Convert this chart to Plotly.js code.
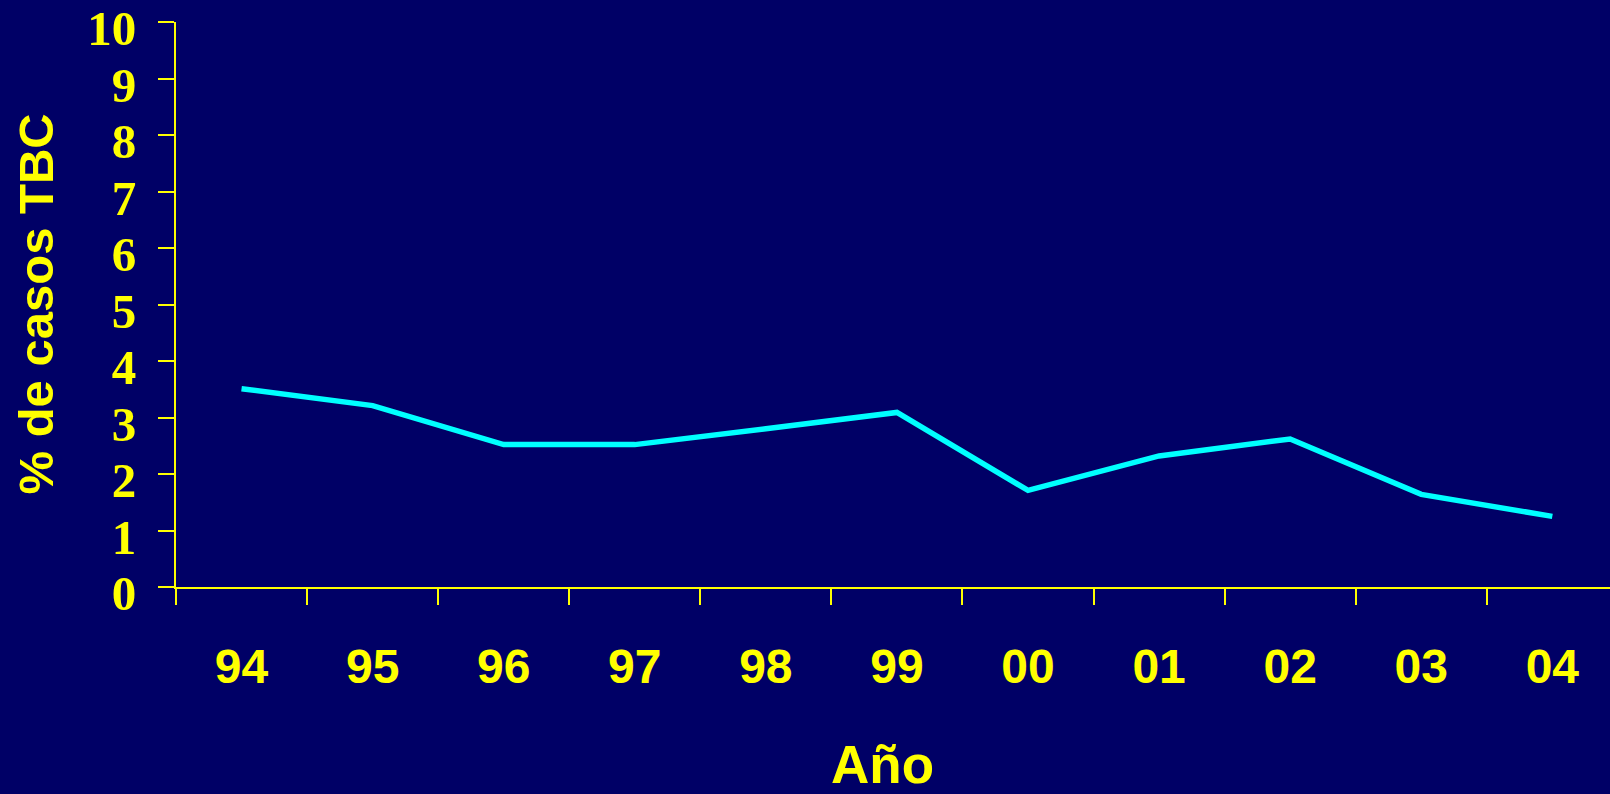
<!DOCTYPE html>
<html>
<head>
<meta charset="utf-8">
<script src="https://cdn.plot.ly/plotly-3.0.1.min.js"></script>
<style>html,body{margin:0;padding:0;background:#000066;}#chart{width:1610px;height:794px;}</style>
</head>
<body>
<div id="chart"></div>
<script>
const years = ['94', '95', '96', '97', '98', '99', '00', '01', '02', '03', '04'];
const percentTBC = [3.51, 3.21, 2.52, 2.52, 2.80, 3.09, 1.71, 2.32, 2.62, 1.64, 1.25];
const yTicks = [0, 1, 2, 3, 4, 5, 6, 7, 8, 9, 10];
const xTitle = 'Año';
const yTitle = '% de casos TBC';

const yellow = '#FFFF00';
const bg = '#000066';

Plotly.newPlot('chart', [{
  type: 'scatter',
  mode: 'lines',
  x: years,
  y: percentTBC,
  line: {color: '#00FFFF', width: 5.5},
  hoverinfo: 'skip'
}], {
  width: 1610,
  height: 794,
  margin: {l: 176, r: 0, t: 22, b: 207},
  paper_bgcolor: bg,
  plot_bgcolor: bg,
  showlegend: false,
  xaxis: {
    type: 'category',
    range: [-0.5, 10.44],
    tickson: 'boundaries',
    ticks: 'outside',
    ticklen: 16,
    tickwidth: 2,
    tickcolor: yellow,
    showline: true,
    linecolor: yellow,
    linewidth: 2,
    showgrid: false,
    zeroline: false,
    ticklabelstandoff: 36,
    ticklabeloverflow: 'allow',
    tickfont: {family: 'Liberation Sans, Arial, sans-serif', size: 48, color: yellow, weight: 'bold'}
  },
  yaxis: {
    range: [0, 10],
    tickvals: yTicks,
    ticktext: yTicks.map(String),
    ticks: 'outside',
    ticklen: 16,
    tickwidth: 2,
    tickcolor: yellow,
    showline: true,
    linecolor: yellow,
    linewidth: 2,
    showgrid: false,
    zeroline: false,
    ticklabelstandoff: 12,
    ticklabelshift: 6,
    ticklabeloverflow: 'allow',
    tickfont: {family: 'Liberation Serif, Times New Roman, serif', size: 49, color: yellow, weight: 'bold'}
  },
  annotations: [
    {
      text: xTitle, xref: 'paper', yref: 'paper', x: (882 - 176) / 1434, y: -177 / 565,
      xanchor: 'center', yanchor: 'middle', showarrow: false,
      font: {family: 'Liberation Sans, Arial, sans-serif', size: 53, color: yellow, weight: 'bold'}
    },
    {
      text: yTitle, xref: 'paper', yref: 'paper', x: (35 - 176) / 1434, y: 0.5,
      xanchor: 'center', yanchor: 'middle', showarrow: false, textangle: -90,
      font: {family: 'Liberation Sans, Arial, sans-serif', size: 49, color: yellow, weight: 'bold'}
    }
  ]
}, {staticPlot: true});
</script>
</body>
</html>
